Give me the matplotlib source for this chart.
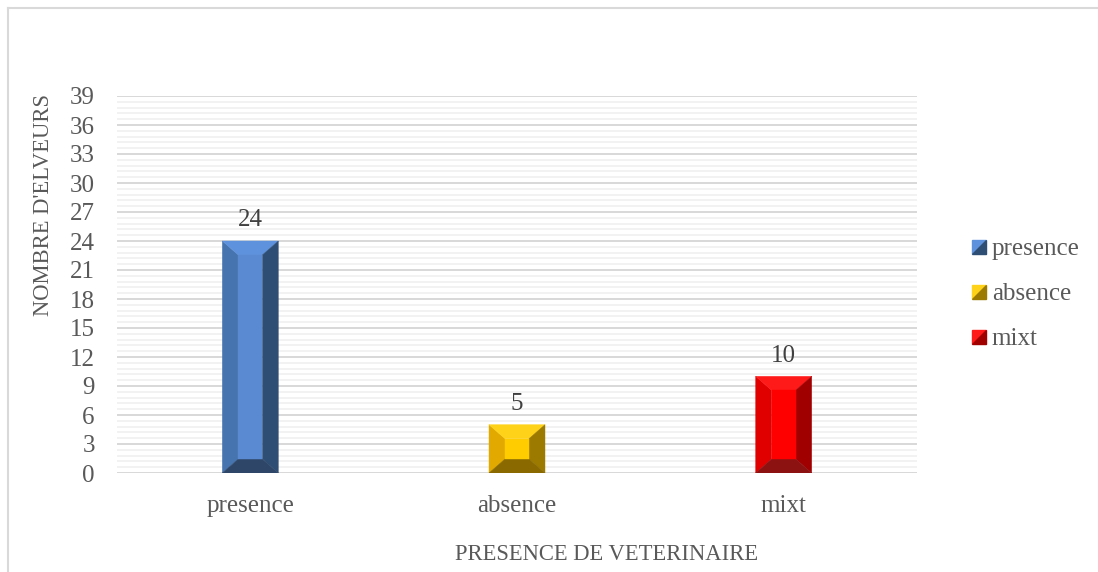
import numpy as np
import matplotlib
matplotlib.use('Agg')
import matplotlib.pyplot as plt
from matplotlib.patches import Polygon
from matplotlib.lines import Line2D
from matplotlib.legend_handler import HandlerBase

#data
categories = ['presence', 'absence', 'mixt']
values = [24, 5, 10]
yticks = np.arange(0, 40, 3)

#bevel colours: front, left, top, right, bottom
shades = {
    'presence': ['#5a8bd2', '#4674ae', '#5e92dc', '#2f4e73', '#2e4769'],
    'absence':  ['#ffcc00', '#e2aa00', '#ffd21a', '#9c7a00', '#8a6a00'],
    'mixt':     ['#ff0000', '#e00000', '#ff1a1a', '#a10000', '#8c1212'],
}

plt.rcParams['font.family'] = ['Liberation Serif', 'DejaVu Serif']
txt = '#595959'

fig = plt.figure(figsize=(10.98, 5.72), dpi=100)
ax = fig.add_axes([117/1098, 1-473/572, 800/1098, 377/572])

ax.set_xlim(-0.5, 2.5)
ax.set_ylim(0, 39)

#grid: major every 3, minor every 0.6
for y in np.arange(0, 39.01, 0.6):
    ax.axhline(y, color='#f0f0f0', lw=1.2, zorder=0)
for y in yticks:
    ax.axhline(y, color='#d9d9d9', lw=1.4, zorder=1)

w = 0.21
bx = 16/266.7          # bevel width in data units
by = 14/(377/39)       # bevel height in data units
for i, (c, v) in enumerate(zip(categories, values)):
    front, left, top, right, bottom = shades[c]
    x0, x1 = i - w/2, i + w/2
    y0, y1 = 0, v
    ix0, ix1, iy0, iy1 = x0 + bx, x1 - bx, y0 + by, y1 - by
    polys = [
        ([(x0, y0), (ix0, iy0), (ix0, iy1), (x0, y1)], left),
        ([(x0, y1), (ix0, iy1), (ix1, iy1), (x1, y1)], top),
        ([(x1, y1), (ix1, iy1), (ix1, iy0), (x1, y0)], right),
        ([(x0, y0), (ix0, iy0), (ix1, iy0), (x1, y0)], bottom),
        ([(ix0, iy0), (ix0, iy1), (ix1, iy1), (ix1, iy0)], front),
    ]
    for pts, col in polys:
        ax.add_patch(Polygon(pts, closed=True, facecolor=col, edgecolor=col, lw=0.3, zorder=3))
    ax.annotate(str(v), (i, v), textcoords='offset points', xytext=(0, 7),
                ha='center', va='bottom', fontsize=18, color='#404040')

ax.set_xticks(range(len(categories)))
ax.set_xticklabels(categories)
ax.set_yticks(yticks)
ax.tick_params(axis='x', length=0, pad=16, labelsize=18, labelcolor=txt)
ax.tick_params(axis='y', length=0, pad=16, labelsize=18, labelcolor=txt)
for s in ax.spines.values():
    s.set_visible(False)

fig.text(44/1098, 1-205/572, "NOMBRE D'ELVEURS", rotation=90, ha='center', va='center',
         fontsize=16.3, color=txt)
fig.text(607/1098, 1-555/572, 'PRESENCE DE VETERINAIRE', ha='center', va='center',
         fontsize=16.3, color=txt)

#legend with split squares
class SplitSquare(HandlerBase):
    def __init__(self, c1, c2):
        super().__init__()
        self.c1, self.c2 = c1, c2
    def create_artists(self, legend, orig_handle, xdescent, ydescent, width, height, fontsize, trans):
        s = height * 0.8
        x0 = width - s
        y0 = -ydescent + (height - s)/2
        p1 = Polygon([(x0, y0), (x0, y0+s), (x0+s, y0+s)], closed=True, facecolor=self.c1, edgecolor=self.c1, transform=trans)
        p2 = Polygon([(x0, y0), (x0+s, y0), (x0+s, y0+s)], closed=True, facecolor=self.c2, edgecolor=self.c2, transform=trans)
        return [p1, p2]

handles = [Line2D([], []) for _ in categories]
hmap = {h: SplitSquare(shades[c][2], shades[c][3]) for h, c in zip(handles, categories)}
leg = fig.legend(handles, categories, handler_map=hmap, loc='center left',
                 bbox_to_anchor=(943/1098, 1-294/572), frameon=False, fontsize=18,
                 labelcolor=txt, handlelength=0.8, handletextpad=0.25, labelspacing=0.9)

#chart border (left and top only visible)
fig.add_artist(Line2D([7.5/1098, 7.5/1098], [0, 1-7.5/572], color='#d9d9d9', lw=1.5))
fig.add_artist(Line2D([7.5/1098, 1], [1-7.5/572, 1-7.5/572], color='#d9d9d9', lw=1.5))

plt.savefig('out.png', dpi=100)
